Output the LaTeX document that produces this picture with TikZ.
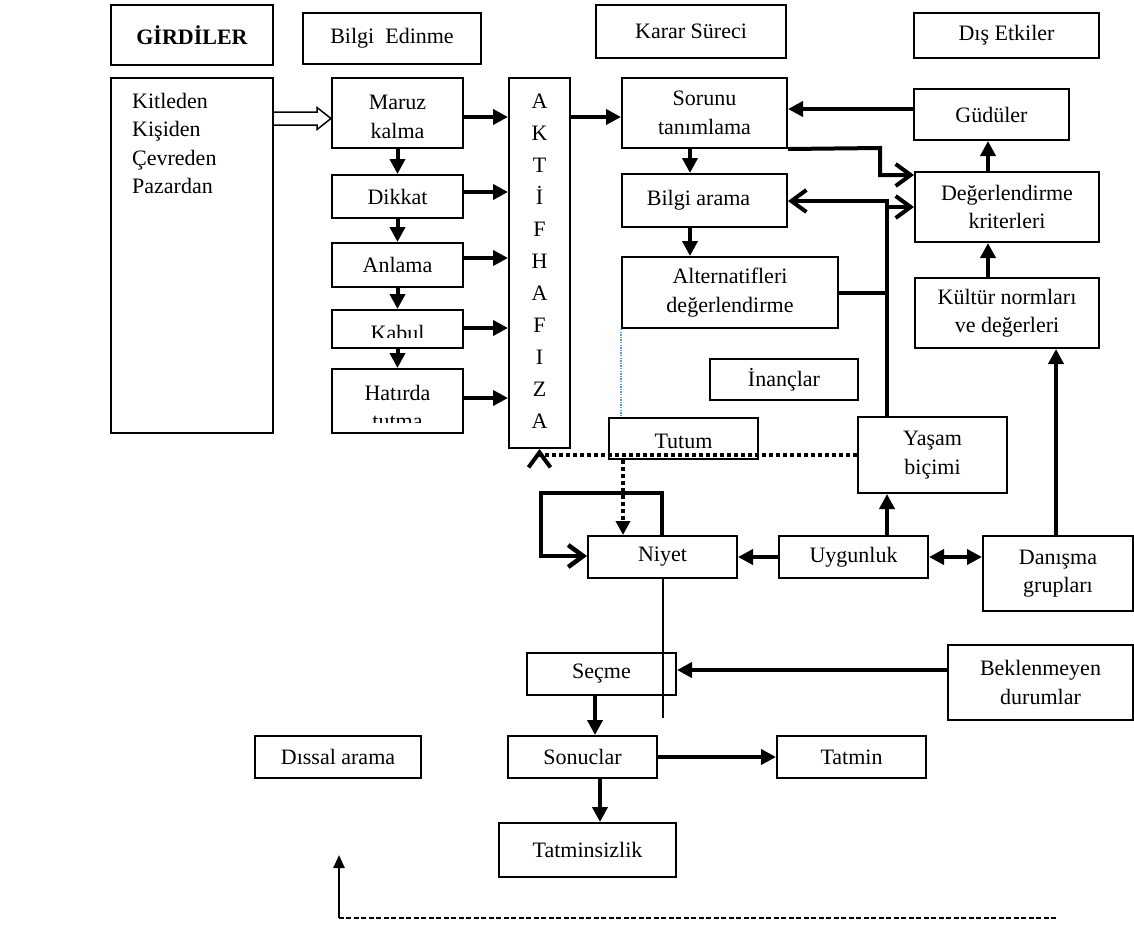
\documentclass[tikz,border=0pt]{standalone}
\usepackage{fontspec}
\setmainfont{Liberation Serif}
\usetikzlibrary{arrows.meta,calc}
\definecolor{linkblue}{RGB}{91,155,213}
\tikzset{
  box/.style={draw, line width=2pt, fill=white, inner sep=0pt, align=center,
    font=\fontsize{22}{28.5}\selectfont},
  lbl/.style={inner sep=0pt, align=center, font=\fontsize{22}{28.5}\selectfont},
  arr/.style={line width=4pt, -{Triangle[length=15pt,width=15pt]}},
  barb/.style={line width=4pt, line join=miter, -{Straight Barb[length=15pt,width=22pt]}},
  thick4/.style={line width=4pt, line join=miter},
  dots/.style={line width=4pt, dash pattern=on 4pt off 3pt},
}
% box given by its corners (x1,y1) (x2,y2) in pixel units
\newcommand\mybox[6]{\node[box, minimum width={(#4-#2)*1pt}, minimum height={(#5-#3)*1pt}]
  (#1) at ({(#2+#4)/2},{(#3+#5)/2}) {#6};}
\begin{document}
\begin{tikzpicture}[x=1pt,y=-1pt]
\useasboundingbox (0,0) rectangle (1134,924);

% column headings
\mybox{girdi}{111}{5}{273}{65}{\bfseries GİRDİLER}
\mybox{bilgied}{303}{13}{481}{64}{Bilgi\ \ Edinme}
\mybox{karar}{596}{5}{786}{58}{Karar Süreci}
\mybox{dis}{914}{13}{1099}{58}{Dış Etkiler}

% inputs
\mybox{kit}{111}{78}{273}{433}{}
\node[lbl, anchor=north west, align=left] (kittext) at (132,93) {Kitleden\\Kişiden\\Çevreden\\Pazardan};

% information acquisition
\mybox{maruz}{332}{78}{463}{148}{}
\node[lbl] (maruztext) at ($(maruz.center)+(0,4)$) {Maruz\\kalma};
\mybox{dikkat}{332}{175}{463}{218}{Dikkat}
\mybox{anlama}{332}{243}{463}{287}{Anlama}
\mybox{kabul}{332}{310}{463}{348}{}
\begin{scope}
  \clip (332,310) rectangle (463,337.5);
  \node[lbl, anchor=base] (kabultext) at (397.5,340) {Kabul};
\end{scope}
\mybox{hatirda}{332}{369}{463}{433}{}
\begin{scope}
  \clip (332,369) rectangle (463,422);
  \node[lbl, anchor=base] (hat1) at (397.5,400) {Hatırda};
  \node[lbl, anchor=base] (hat2) at (397.5,428.5) {tutma};
\end{scope}

% active memory column
\mybox{akt}{509}{78}{570}{448}{}
\foreach \l [count=\i from 0] in {A,K,T,İ,F,H,A,F,I,Z,A}
  \node[lbl, anchor=base] (akt\i) at (539.5,{108+32*\i}) {\l};

% decision process
\mybox{sorunu}{622}{78}{787}{148}{Sorunu\\tanımlama}
\mybox{bilgiar}{622}{174}{787}{227}{Bilgi arama\hspace{12pt}}
\mybox{alter}{622}{257}{838}{328}{Alternatifleri\\değerlendirme}
\mybox{inanc}{710}{359}{858}{400}{İnançlar}
\mybox{tutum}{609}{418}{758}{459}{}
\node[lbl] (tutumtext) at ($(tutum.center)+(0,3)$) {Tutum};
\mybox{yasam}{858}{417}{1007}{493}{Yaşam\\biçimi}
\mybox{niyet}{588}{536}{737}{578}{Niyet}
\mybox{uygun}{779}{536}{928}{578}{Uygunluk}
\mybox{secme}{527}{653}{676}{695}{Seçme}
\mybox{sonuc}{508}{736}{657}{778}{Sonuclar}
\mybox{tatmin}{777}{736}{926}{778}{Tatmin}
\mybox{tatsiz}{499}{823}{676}{877}{Tatminsizlik}
\mybox{dissal}{255}{736}{421}{778}{Dıssal arama}

% external influences
\mybox{gudu}{914}{89}{1069}{140}{Güdüler}
\mybox{deger}{915}{172}{1099}{242}{Değerlendirme\\kriterleri}
\mybox{kultur}{915}{278}{1099}{348}{Kültür normları\\ve değerleri}
\mybox{danis}{983}{536}{1133}{611}{Danışma\\grupları}
\mybox{bekl}{948}{645}{1133}{720}{Beklenmeyen\\durumlar}

% hollow input arrow
\draw[line width=1.5pt, line join=miter, fill=white]
  (kit.east |- 0,112) -- ($(maruz.west |- 0,112)+(-14,0)$) -- ($(maruz.west |- 0,107.5)+(-14,0)$)
  -- (maruz.west |- 0,118.5) -- ($(maruz.west |- 0,129.5)+(-14,0)$) -- ($(maruz.west |- 0,125)+(-14,0)$)
  -- (kit.east |- 0,125);

% acquisition chain
\draw[arr] (maruz.south) -- (dikkat.north);
\draw[arr] (dikkat.south) -- (anlama.north);
\draw[arr] (anlama.south) -- (kabul.north);
\draw[arr] (kabul.south) -- (hatirda.north);
\draw[arr] (maruz.east |- 0,117) -- (akt.west |- 0,117);
\draw[arr] (dikkat.east |- 0,192) -- (akt.west |- 0,192);
\draw[arr] (anlama.east |- 0,258) -- (akt.west |- 0,258);
\draw[arr] (kabul.east |- 0,328) -- (akt.west |- 0,328);
\draw[arr] (hatirda.east |- 0,398) -- (akt.west |- 0,398);

% decision chain
\draw[arr] (akt.east |- 0,117) -- (sorunu.west |- 0,117);
\draw[arr] (gudu.west |- 0,109) -- (sorunu.east |- 0,109);
\draw[arr] (sorunu.south -| 690,0) -- (bilgiar.north -| 690,0);
\draw[arr] (bilgiar.south -| 690,0) -- (alter.north -| 690,0);
\draw[barb] (sorunu.south east) -- (880,148) |- (deger.west |- 0,175);
\coordinate (jn) at (887,201);
\draw[barb] (yasam.north -| jn) -- (jn) -- (bilgiar.east |- jn);
\draw[barb] (jn |- 0,207) -- (deger.west |- 0,207);
\draw[thick4] (alter.east |- 0,293) -- (jn |- 0,293);
\draw[linkblue, line width=1.3pt, dash pattern=on 1.3pt off 1.3pt] (alter.south west) -- (tutum.north -| alter.south west);

% external influences
\draw[arr] (deger.north -| 988,0) -- (gudu.south -| 988,0);
\draw[arr] (kultur.north -| 988,0) -- (deger.south -| 988,0);
\draw[arr] (danis.north -| 1056,0) -- (kultur.south -| 1056,0);
\draw[arr] (uygun.north -| jn) -- (yasam.south -| jn);
\draw[arr] (uygun.west) -- (niyet.east);
\draw[line width=4pt, {Triangle[length=15pt,width=15pt]}-{Triangle[length=15pt,width=15pt]}]
  (uygun.east) -- (danis.west |- uygun.east);

% attitude and intention
\draw[dots, -{Straight Barb[length=15pt,width=22pt,line width=4pt]}] (yasam.west |- 0,455) -| (akt.south);
\draw[dots, -{Triangle[length=14pt,width=14pt]}] (tutum.south -| 623,0) -- (niyet.north -| 623,0);
\draw[line width=4.5pt, line join=miter, -{Straight Barb[length=15pt,width=22pt]}]
  (niyet.north -| 662,0) -- (662,493) -| (541,556) -- (niyet.west |- 0,556);
\coordinate (niyetend) at (663,718);
\draw[line width=1.5pt] (niyet.south -| niyetend) -- (niyetend);

% purchase and outcome
\draw[arr] (bekl.west |- 0,670) -- (secme.east |- 0,670);
\draw[arr] (secme.south -| 595,0) -- (sonuc.north -| 595,0);
\draw[arr] (sonuc.east) -- (tatmin.west);
\draw[arr] (sonuc.south -| 600,0) -- (tatsiz.north -| 600,0);

% feedback line
\coordinate (fbstart) at (1056,918);
\coordinate (fbcorner) at (339,918);
\coordinate (fbend) at (339,855);
\draw[line width=1.5pt, dash pattern=on 5pt off 2.5pt] (fbstart) -- (fbcorner);
\draw[line width=2.5pt, -{Triangle[length=13pt,width=11pt]}] (fbcorner) -- (fbend);
\end{tikzpicture}
\end{document}
